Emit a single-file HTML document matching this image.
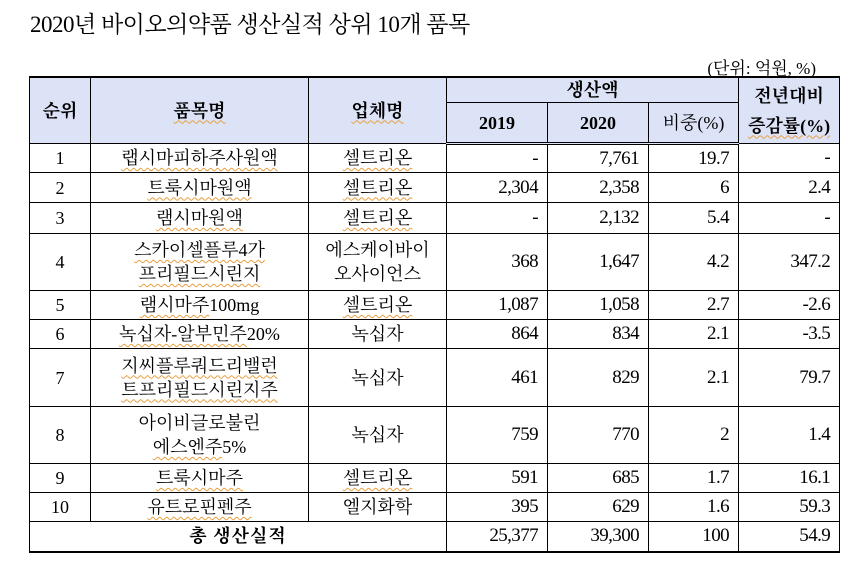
<!DOCTYPE html>
<html><head><meta charset="utf-8"><style>
body{margin:0;width:864px;height:572px;background:#fff;font-family:"Liberation Serif","Noto Serif CJK SC",serif;color:#000;position:relative;overflow:hidden}
#title{position:absolute;left:30px;top:6px;font-size:23px;letter-spacing:-0.5px}
#unit{position:absolute;right:48px;top:54px;font-size:17px}
table{position:absolute;left:29px;top:76px;border-collapse:collapse;table-layout:fixed;font-size:18px}
td{border:1px solid #000;padding:0 9px;text-align:center;white-space:nowrap;line-height:24px}
td.n{text-align:right;font-size:19px;letter-spacing:-0.6px}
thead td{background:#dde3f6;font-weight:bold}
thead tr.last td{border-bottom:3px double #000}
table{border-top:2px solid #000;border-bottom:2px solid #000}
.w{text-decoration:underline wavy #e8a040 1px;text-underline-offset:3px}
</style></head><body>
<div id="title">2020년 바이오의약품 생산실적 상위 10개 품목</div>
<div id="unit">(단위: 억원, %)</div>
<table>
<colgroup><col style="width:61px"><col style="width:218px"><col style="width:138px"><col style="width:101px"><col style="width:101px"><col style="width:90px"><col style="width:97px"></colgroup>
<thead>
<tr style="height:24px"><td rowspan="2">순위</td><td rowspan="2"><span class="w">품목명</span></td><td rowspan="2"><span class="w">업체명</span></td><td colspan="3">생산액</td><td rowspan="2" style="line-height:30px">전년대비<br><span class="w">증감률(%)</span></td></tr>
<tr class="last" style="height:41px"><td>2019</td><td>2020</td><td style="font-weight:normal;padding:0 4px">비중(%)</td></tr>
</thead>
<tbody>
<tr style="height:29px"><td>1</td><td><span class="w">랩시마피하주사원액</span></td><td><span class="w">셀트리온</span></td><td class="n">-</td><td class="n">7,761</td><td class="n">19.7</td><td class="n">-</td></tr>
<tr style="height:30px"><td>2</td><td><span class="w">트룩시마원액</span></td><td><span class="w">셀트리온</span></td><td class="n">2,304</td><td class="n">2,358</td><td class="n">6</td><td class="n">2.4</td></tr>
<tr style="height:31px"><td>3</td><td><span class="w">램시마원액</span></td><td><span class="w">셀트리온</span></td><td class="n">-</td><td class="n">2,132</td><td class="n">5.4</td><td class="n">-</td></tr>
<tr style="height:57px"><td>4</td><td><span class="w">스카이셀플루4가</span><br><span class="w">프리필드시린지</span></td><td>에스케이바이<br>오사이언스</td><td class="n">368</td><td class="n">1,647</td><td class="n">4.2</td><td class="n">347.2</td></tr>
<tr style="height:29px"><td>5</td><td><span class="w">램시마주</span>100mg</td><td><span class="w">셀트리온</span></td><td class="n">1,087</td><td class="n">1,058</td><td class="n">2.7</td><td class="n">-2.6</td></tr>
<tr style="height:29px"><td>6</td><td><span class="w">녹십자-알부민주</span>20%</td><td>녹십자</td><td class="n">864</td><td class="n">834</td><td class="n">2.1</td><td class="n">-3.5</td></tr>
<tr style="height:58px"><td>7</td><td><span class="w">지씨플루쿼드리밸런</span><br><span class="w">트프리필드시린지주</span></td><td>녹십자</td><td class="n">461</td><td class="n">829</td><td class="n">2.1</td><td class="n">79.7</td></tr>
<tr style="height:57px"><td>8</td><td>아이비글로불린<br><span class="w">에스엔주</span>5%</td><td>녹십자</td><td class="n">759</td><td class="n">770</td><td class="n">2</td><td class="n">1.4</td></tr>
<tr style="height:29px"><td>9</td><td><span class="w">트룩시마주</span></td><td><span class="w">셀트리온</span></td><td class="n">591</td><td class="n">685</td><td class="n">1.7</td><td class="n">16.1</td></tr>
<tr style="height:29px"><td>10</td><td><span class="w">유트로핀펜주</span></td><td>엘지화학</td><td class="n">395</td><td class="n">629</td><td class="n">1.6</td><td class="n">59.3</td></tr>
<tr style="height:30px"><td colspan="3" style="font-weight:bold;letter-spacing:1px">총 생산실적</td><td class="n">25,377</td><td class="n">39,300</td><td class="n">100</td><td class="n">54.9</td></tr>
</tbody></table>
</body></html>
